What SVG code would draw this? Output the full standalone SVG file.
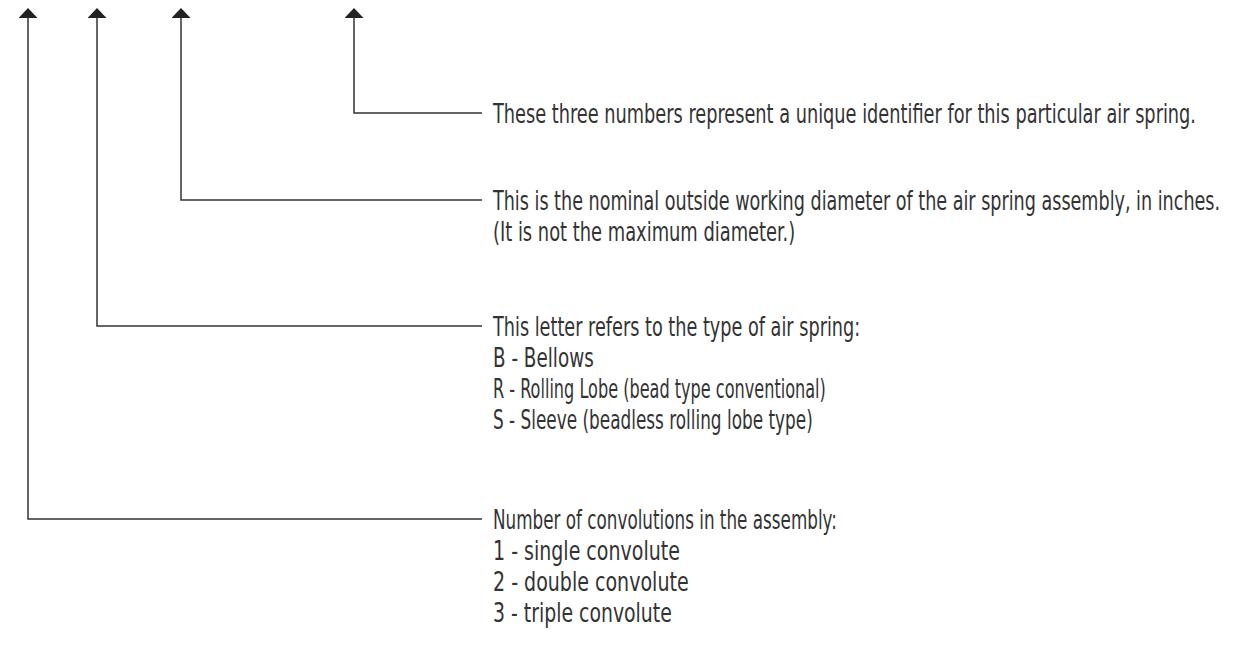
<svg xmlns="http://www.w3.org/2000/svg" width="1247" height="652" viewBox="0 0 1247 652">
<style>
.c{fill:none;stroke:#333;stroke-width:1.5}
.t{font-family:"Liberation Sans Narrow","DejaVu Sans Condensed",sans-serif;font-size:27px;fill:#333}
</style>
<defs>
<marker id="ah" viewBox="0 0 19 10" refX="9.5" refY="10" markerWidth="19" markerHeight="10" markerUnits="userSpaceOnUse" orient="0">
<path d="M0,10 L9.5,0 L19,10 Z" fill="#222"/>
</marker>
</defs>
<rect width="1247" height="652" fill="#fff"/>
<g id="connectors">
<path class="c" d="M482,519 H28 V18" marker-end="url(#ah)"/>
<path class="c" d="M482,326 H97 V18" marker-end="url(#ah)"/>
<path class="c" d="M482,200 H181 V18" marker-end="url(#ah)"/>
<path class="c" d="M482,113 H354 V18" marker-end="url(#ah)"/>
</g>
<g id="node-identifier">
<text class="t" transform="translate(493,123) scale(0.73,1)" textLength="963" lengthAdjust="spacingAndGlyphs">These three numbers represent a unique identifier for this particular air spring.</text>
</g>
<g id="node-diameter">
<text class="t" transform="translate(493,210) scale(0.73,1)" textLength="996" lengthAdjust="spacingAndGlyphs">This is the nominal outside working diameter of the air spring assembly, in inches.</text>
<text class="t" transform="translate(493,241) scale(0.73,1)" textLength="414" lengthAdjust="spacingAndGlyphs">(It is not the maximum diameter.)</text>
</g>
<g id="node-type">
<text class="t" transform="translate(493,336) scale(0.73,1)" textLength="503" lengthAdjust="spacingAndGlyphs">This letter refers to the type of air spring:</text>
<text class="t" transform="translate(493,367) scale(0.73,1)" textLength="138" lengthAdjust="spacingAndGlyphs">B - Bellows</text>
<text class="t" transform="translate(493,398) scale(0.73,1)" textLength="456" lengthAdjust="spacingAndGlyphs">R - Rolling Lobe (bead type conventional)</text>
<text class="t" transform="translate(493,429) scale(0.73,1)" textLength="438" lengthAdjust="spacingAndGlyphs">S - Sleeve (beadless rolling lobe type)</text>
</g>
<g id="node-convolutions">
<text class="t" transform="translate(493,529) scale(0.73,1)" textLength="471" lengthAdjust="spacingAndGlyphs">Number of convolutions in the assembly:</text>
<text class="t" transform="translate(493,560) scale(0.73,1)" textLength="256" lengthAdjust="spacingAndGlyphs">1 - single convolute</text>
<text class="t" transform="translate(493,591) scale(0.73,1)" textLength="268" lengthAdjust="spacingAndGlyphs">2 - double convolute</text>
<text class="t" transform="translate(493,622) scale(0.73,1)" textLength="245" lengthAdjust="spacingAndGlyphs">3 - triple convolute</text>
</g>
</svg>
